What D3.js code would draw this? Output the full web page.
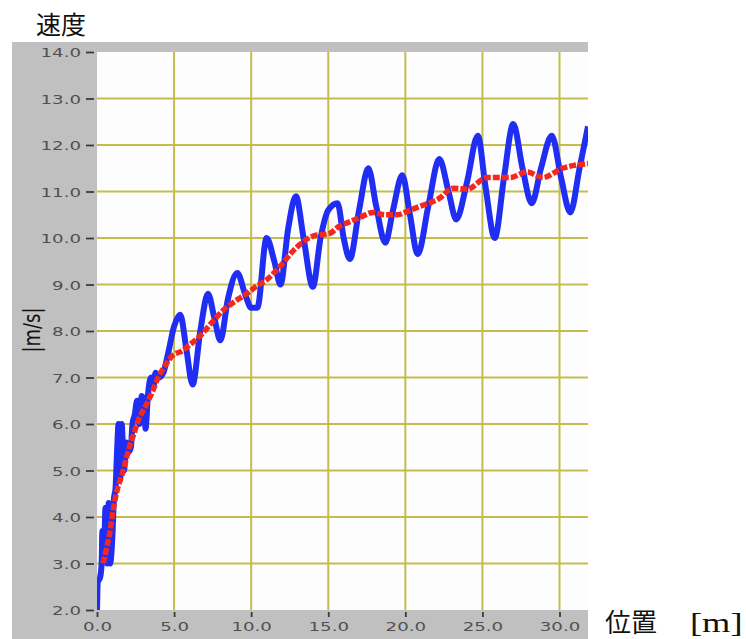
<!DOCTYPE html>
<html>
<head>
<meta charset="utf-8">
<script src="https://cdn.jsdelivr.net/npm/d3@7"></script>
<style>
  body { margin: 0; background: #fff; }
  svg { display: block; }
</style>
</head>
<body>
<svg id="chart" width="746" height="639"></svg>
<script>
// measured speed (blue)
var blueX = [0.0, 0.05, 0.2, 0.3, 0.35, 0.45, 0.55, 0.65, 0.75, 0.85, 1.0, 1.1, 1.2, 1.3, 1.4, 1.5, 1.6, 1.75,
  1.9, 2.05, 2.2, 2.3, 2.45, 2.6, 2.75, 2.9, 3.05, 3.15, 3.3, 3.5, 3.65, 3.8, 4.0, 4.3, 4.6, 5.0, 5.4, 5.8,
  6.2, 6.7, 7.2, 7.6, 8.0, 8.5, 9.1, 9.6, 10.0, 10.4, 11.0, 11.5, 11.9, 12.4, 12.9, 13.4, 14.0, 14.5, 15.0,
  15.6, 16.0, 16.4, 17.0, 17.6, 18.1, 18.7, 19.2, 19.8, 20.3, 20.8, 21.5, 22.2, 22.8, 23.3, 24.0, 24.7,
  25.2, 25.8, 26.4, 27.0, 27.6, 28.2, 28.8, 29.5, 30.1, 30.7, 31.3, 31.85];
var blueY = [2.0, 2.6, 2.7, 3.0, 3.7, 3.1, 4.2, 3.0, 4.3, 3.0, 3.6, 4.4, 4.6, 5.4, 6.0, 4.8, 6.0, 5.0,
  5.6, 5.4, 5.5, 6.0, 6.2, 6.5, 6.0, 6.6, 6.5, 5.9, 6.6, 7.0, 6.8, 7.1, 7.0, 7.1, 7.5, 8.1, 8.35, 7.6,
  6.85, 8.0, 8.8, 8.3, 7.8, 8.7, 9.25, 8.8, 8.5, 8.5, 10.0, 9.5, 9.0, 10.2, 10.9, 10.0, 8.95, 10.0, 10.6,
  10.75, 10.0, 9.55, 10.6, 11.5, 10.7, 9.9, 10.6, 11.35, 10.5, 9.65, 10.7, 11.7, 11.0, 10.4, 11.2, 12.2,
  11.1, 10.0, 11.3, 12.45, 11.5, 10.75, 11.5, 12.2, 11.3, 10.55, 11.5, 12.4];

// smoothed speed (red)
var redX = [0.4, 0.6, 0.85, 1.0, 1.25, 1.7, 2.1, 2.35, 2.65, 3.25, 3.6, 3.9, 4.4, 5.0, 5.4, 6.0, 6.7, 7.5,
  8.2, 9.0, 9.7, 10.3, 11.0, 11.9, 12.8, 13.5, 14.1, 15.1, 15.7, 16.4, 17.1, 17.9, 18.7, 19.5, 20.3, 21.1,
  22.2, 23.1, 24.0, 25.3, 26.8, 27.9, 28.9, 30.2, 31.85];
var redY = [3.0, 3.3, 3.7, 4.05, 4.5, 5.0, 5.5, 5.75, 6.05, 6.45, 6.7, 6.95, 7.25, 7.5, 7.55, 7.7, 7.9, 8.2,
  8.45, 8.65, 8.8, 8.95, 9.1, 9.4, 9.75, 9.95, 10.05, 10.1, 10.25, 10.35, 10.45, 10.55, 10.5, 10.5, 10.6, 10.7,
  10.85, 11.07, 11.05, 11.3, 11.3, 11.42, 11.3, 11.5, 11.6];

var xTicks = [0, 5, 10, 15, 20, 25, 30];
var yTicks = [2, 3, 4, 5, 6, 7, 8, 9, 10, 11, 12, 13, 14];

var svg = d3.select("#chart");

var pLeft = 97, pRight = 588, pTop = 52, pBottom = 610;

var x = d3.scaleLinear().domain([0, 30]).range([pLeft, 559.5]);
var y = d3.scaleLinear().domain([2, 14]).range([pBottom, pTop]);

// gray frame + white plot area
svg.append("rect").attr("x", 12).attr("y", 42).attr("width", pRight - 12).attr("height", 639 - 42)
  .attr("fill", "#c0c0c0");
svg.append("rect").attr("x", pLeft).attr("y", pTop).attr("width", pRight - pLeft).attr("height", pBottom - pTop)
  .attr("fill", "#fdfdfd");

svg.append("clipPath").attr("id", "plot")
  .append("rect").attr("x", pLeft).attr("y", pTop).attr("width", pRight - pLeft).attr("height", pBottom - pTop);

// grid
var grid = svg.append("g").attr("clip-path", "url(#plot)");
grid.selectAll(".gx").data(xTicks.filter(d => d > 0)).enter().append("line")
  .attr("x1", d => x(d)).attr("x2", d => x(d)).attr("y1", pTop).attr("y2", pBottom)
  .attr("stroke", "#c4bd4e").attr("stroke-width", 2);
grid.selectAll(".gy").data(yTicks.filter(d => d > 2 && d < 14)).enter().append("line")
  .attr("y1", d => y(d)).attr("y2", d => y(d)).attr("x1", pLeft).attr("x2", pRight)
  .attr("stroke", "#c4bd4e").attr("stroke-width", 2);

// axes
var yAxis = svg.append("g").attr("transform", `translate(${pLeft - 3},0)`)
  .call(d3.axisLeft(y).tickValues(yTicks).tickFormat(d3.format(".1f")).tickSize(8).tickPadding(4));
var xAxis = svg.append("g").attr("transform", `translate(0,${pBottom + 2})`)
  .call(d3.axisBottom(x).tickValues(xTicks).tickFormat(d3.format(".1f")).tickSize(5).tickPadding(3));

[yAxis, xAxis].forEach(function(ax) {
  ax.select(".domain").remove();
  ax.selectAll(".tick line").attr("stroke", "#3a3a3a").attr("stroke-width", 1.8);
  ax.selectAll(".tick text")
    .attr("font-family", "DejaVu Sans").attr("font-size", 13).attr("fill", "#505050");
});
yAxis.selectAll(".tick text").attr("transform", "scale(1.4,1)").attr("x", -13 / 1.4).attr("dy", "0.36em");
xAxis.selectAll(".tick text").attr("transform", "scale(1.4,1)").attr("dy", "0.85em");

// series
var blueData = blueX.map((d, i) => [d, blueY[i]]);
var redData = redX.map((d, i) => [d, redY[i]]);

var line = d3.line().x(d => x(d[0])).y(d => y(d[1])).curve(d3.curveMonotoneX);

var plot = svg.append("g").attr("clip-path", "url(#plot)");
plot.append("path").datum(blueData).attr("d", line)
  .attr("fill", "none").attr("stroke", "#1f2ef2").attr("stroke-width", 6)
  .attr("stroke-linejoin", "round");
plot.append("path").datum(redData).attr("d", line)
  .attr("fill", "none").attr("stroke", "#f5281e").attr("stroke-width", 5.5)
  .attr("stroke-dasharray", "7 2");

// labels
svg.append("text").attr("x", 36).attr("y", 34).text("速度")
  .attr("font-family", "Noto Sans CJK JP").attr("font-size", 25).attr("fill", "#111");

svg.append("text").attr("transform", "translate(40,330) rotate(-90) scale(1,1.3)")
  .attr("text-anchor", "middle").text("|m/s|")
  .attr("font-family", "DejaVu Sans").attr("font-size", 18).attr("fill", "#111");

svg.append("text").attr("x", 605).attr("y", 632).text("位置")
  .attr("font-family", "Noto Sans CJK JP").attr("font-size", 26).attr("fill", "#111");
svg.append("text").attr("transform", "translate(690,632) scale(1.3,1)").text("[m]")
  .attr("font-family", "Liberation Serif").attr("font-size", 28).attr("fill", "#111");
</script>
</body>
</html>
